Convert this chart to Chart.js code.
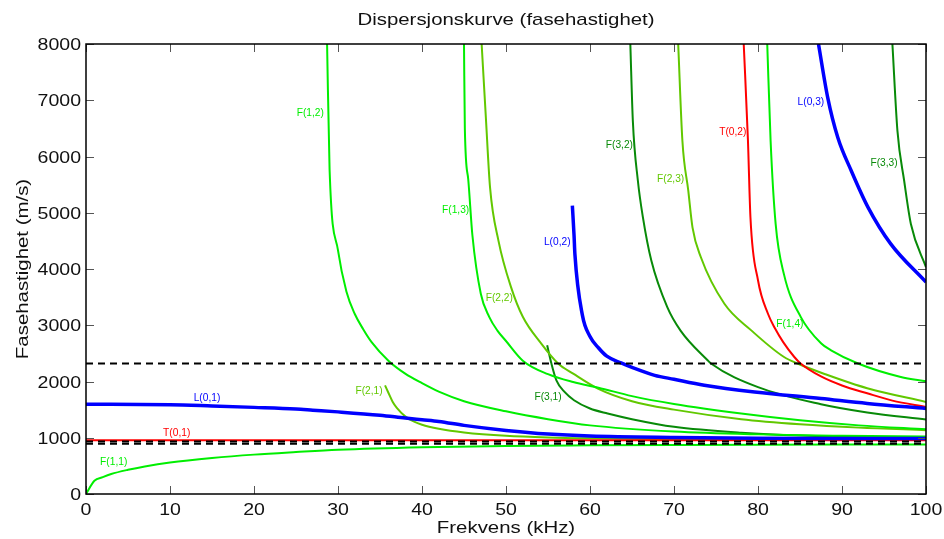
<!DOCTYPE html>
<html>
<head>
<meta charset="utf-8">
<script src="https://cdn.jsdelivr.net/npm/chart.js@4.4.1/dist/chart.umd.min.js"></script>
<style>
  html, body { margin: 0; padding: 0; background: #fff; }
</style>
</head>
<body>
<canvas id="myChart" width="944" height="539"></canvas>
<script>
// axis ticks
const xTicks = [0, 10, 20, 30, 40, 50, 60, 70, 80, 90, 100]
const yTicks = [0, 1000, 2000, 3000, 4000, 5000, 6000, 7000, 8000]

// reference speeds (dashed)
const refSpeeds = [2320, 935, 893]

// phase velocity per mode: frequency (kHz) and speed (m/s)
const freqL01 = [0, 10, 15, 20, 25, 27, 30, 35, 38, 40, 42, 45, 50, 55, 60, 70, 80, 90, 100]
const speedL01 = [1595, 1588, 1566, 1540, 1510, 1490, 1460, 1400, 1350, 1320, 1290, 1220, 1130, 1065, 1030, 1005, 993, 988, 985]

const freqL02 = [57.9, 58.1, 58.2, 59.1, 60, 61, 62, 63.7, 65, 67.7, 70, 73.6, 79.6, 87.5, 93, 100]
const speedL02 = [5126, 4600, 4270, 3175, 2800, 2600, 2450, 2330, 2250, 2110, 2040, 1935, 1815, 1697, 1610, 1520]

const freqL03 = [87.2, 88.3, 89.5, 91.1, 93.1, 95.8, 100]
const speedL03 = [8000, 7047, 6338, 5747, 5096, 4447, 3766]

const freqT01 = [0, 100]
const speedT01 = [955, 955]

const freqT02 = [78.3, 78.8, 79.1, 80, 81.2, 82, 83, 84.3, 85, 87.5, 90, 93, 96, 100]
const speedT02 = [8000, 6300, 4920, 3800, 3200, 2950, 2700, 2440, 2330, 2090, 1930, 1790, 1660, 1548]

const freqF11 = [0, 1, 2, 3, 5, 7, 10, 15, 20, 25, 30, 40, 50, 60, 70, 80, 90, 100]
const speedF11 = [0, 235, 300, 355, 430, 490, 560, 640, 700, 745, 785, 830, 855, 865, 872, 877, 880, 882]

const freqF12 = [28.7, 29, 30, 31, 32, 33, 34, 36, 38, 40, 42, 45, 50, 55, 60, 70, 80, 90, 100]
const speedF12 = [8000, 5760, 4330, 3600, 3200, 2930, 2700, 2370, 2140, 1970, 1820, 1650, 1470, 1330, 1220, 1110, 1060, 1035, 1020]

const freqF13 = [45, 45.1, 45.5, 46, 47, 48, 49, 50, 52, 55, 58, 61, 65, 70, 78, 85, 92, 100]
const speedF13 = [8000, 6500, 5600, 4600, 3560, 3150, 2900, 2720, 2370, 2130, 1990, 1890, 1740, 1600, 1430, 1310, 1220, 1150]

const freqF14 = [81.1, 81.5, 82.1, 83.1, 85.1, 87.5, 88.7, 91.9, 97, 100]
const speedF14 = [8000, 6279, 4801, 3900, 3145, 2680, 2554, 2320, 2081, 2004]

const freqF21 = [35.6, 36, 36.5, 37, 38, 39, 40, 42, 45, 50, 55, 60, 70, 80, 100]
const speedF21 = [1930, 1800, 1640, 1530, 1380, 1290, 1230, 1160, 1095, 1035, 1005, 990, 975, 968, 962]

const freqF22 = [47.1, 47.6, 48.1, 49.1, 50.6, 52, 54.2, 56.2, 58, 61, 65, 70, 78, 85, 92, 100]
const speedF22 = [8000, 6700, 5450, 4505, 3677, 3150, 2673, 2320, 2140, 1870, 1650, 1500, 1330, 1240, 1180, 1135]

const freqF23 = [70.5, 71, 71.7, 72.2, 73.2, 76, 79.2, 83.1, 84.7, 88, 93, 100]
const speedF23 = [8000, 6279, 5392, 4741, 4209, 3382, 2909, 2435, 2320, 2130, 1880, 1637]

const freqF31 = [54.9, 55.4, 56, 57, 58.1, 60, 62.1, 65, 70, 78, 85, 100]
const speedF31 = [2643, 2323, 2022, 1810, 1667, 1520, 1431, 1330, 1194, 1088, 1040, 1005]

const freqF32 = [64.8, 65.1, 65.7, 66.3, 67.3, 69.2, 70.8, 74, 74.4, 80, 87.5, 93, 100]
const speedF32 = [8000, 6634, 5569, 4918, 4150, 3322, 2900, 2377, 2320, 1900, 1596, 1450, 1325]

const freqF33 = [96, 96.6, 97.4, 98.2, 100]
const speedF33 = [8000, 6456, 5569, 4801, 4031]

const BLUE = '#0000ff'
const RED = '#ff0000'
const GREEN = '#00ee00'
const YGREEN = '#62c800'
const DGREEN = '#088a08'

// where each mode name is written (kHz, m/s)
const labelAt = {
  'F(1,1)': [3.3, 569], 'T(0,1)': [10.8, 1084], 'L(0,1)': [14.4, 1707],
  'F(2,1)': [33.7, 1831], 'F(1,2)': [26.7, 6773], 'F(1,3)': [44.0, 5049],
  'F(2,2)': [49.2, 3476], 'L(0,2)': [56.1, 4471], 'F(3,1)': [55.0, 1716],
  'F(3,2)': [63.5, 6196], 'F(2,3)': [69.6, 5591], 'T(0,2)': [77.0, 6427],
  'L(0,3)': [86.3, 6960], 'F(1,4)': [83.8, 3013], 'F(3,3)': [95.0, 5876]
}

const modes = [
  { name: 'L(0,1)', f: freqL01, v: speedL01, color: BLUE, width: 3.5 },
  { name: 'L(0,2)', f: freqL02, v: speedL02, color: BLUE, width: 3.5 },
  { name: 'L(0,3)', f: freqL03, v: speedL03, color: BLUE, width: 3.5 },
  { name: 'T(0,1)', f: freqT01, v: speedT01, color: RED, width: 2 },
  { name: 'T(0,2)', f: freqT02, v: speedT02, color: RED, width: 2 },
  { name: 'F(1,1)', f: freqF11, v: speedF11, color: GREEN, width: 2 },
  { name: 'F(1,2)', f: freqF12, v: speedF12, color: GREEN, width: 2 },
  { name: 'F(1,3)', f: freqF13, v: speedF13, color: GREEN, width: 2 },
  { name: 'F(1,4)', f: freqF14, v: speedF14, color: GREEN, width: 2 },
  { name: 'F(2,1)', f: freqF21, v: speedF21, color: YGREEN, width: 2 },
  { name: 'F(2,2)', f: freqF22, v: speedF22, color: YGREEN, width: 2 },
  { name: 'F(2,3)', f: freqF23, v: speedF23, color: YGREEN, width: 2 },
  { name: 'F(3,1)', f: freqF31, v: speedF31, color: DGREEN, width: 2 },
  { name: 'F(3,2)', f: freqF32, v: speedF32, color: DGREEN, width: 2 },
  { name: 'F(3,3)', f: freqF33, v: speedF33, color: DGREEN, width: 2 }
]

const pts = (f, v) => f.map((x, i) => ({ x: x, y: v[i] }))

// dashed lines first so they end up on top
let datasets = refSpeeds.map(s => ({
  label: 'ref ' + s,
  data: pts([0, 100], [s, s]),
  borderColor: '#000',
  borderWidth: 2,
  borderDash: [7, 5]
}))
modes.forEach(m => datasets.push({
  label: m.name,
  data: pts(m.f, m.v),
  borderColor: m.color,
  borderWidth: m.width,
  cubicInterpolationMode: 'monotone'
}))

const FONT = '"Liberation Sans", Arial, Helvetica, sans-serif'

// text is a bit wider than the plain font
const stretchText = (ctx, text, x, y, sx, rot) => {
  ctx.save()
  ctx.translate(x, y)
  if (rot) ctx.rotate(rot)
  ctx.scale(sx, 1)
  ctx.fillText(text, 0, 0)
  ctx.restore()
}

const axesPlugin = {
  id: 'axesPlugin',
  afterDatasetsDraw(chart) {
    const ctx = chart.ctx
    const a = chart.chartArea
    const xs = chart.scales.x
    const ys = chart.scales.y

    // mode names
    ctx.font = '10px ' + FONT
    ctx.textAlign = 'center'
    ctx.textBaseline = 'middle'
    modes.forEach(m => {
      const p = labelAt[m.name]
      ctx.fillStyle = m.color
      stretchText(ctx, m.name, xs.getPixelForValue(p[0]), ys.getPixelForValue(p[1]), 1.02)
    })

    // inward ticks
    ctx.strokeStyle = '#555'
    ctx.lineWidth = 1
    ctx.beginPath()
    xTicks.forEach(t => {
      const px = Math.round(xs.getPixelForValue(t)) + 0.5
      ctx.moveTo(px, a.bottom); ctx.lineTo(px, a.bottom - 8)
      ctx.moveTo(px, a.top); ctx.lineTo(px, a.top + 8)
    })
    yTicks.forEach(t => {
      const py = Math.round(ys.getPixelForValue(t)) + 0.5
      ctx.moveTo(a.left, py); ctx.lineTo(a.left + 8, py)
      ctx.moveTo(a.right, py); ctx.lineTo(a.right - 8, py)
    })
    ctx.stroke()

    // frame
    ctx.strokeStyle = '#000'
    ctx.lineWidth = 1.5
    ctx.strokeRect(a.left, a.top, a.right - a.left, a.bottom - a.top)

    // tick labels
    ctx.fillStyle = '#111'
    ctx.font = '16px ' + FONT
    ctx.textBaseline = 'alphabetic'
    ctx.textAlign = 'center'
    xTicks.forEach(t => stretchText(ctx, String(t), xs.getPixelForValue(t), a.bottom + 21, 1.22))
    ctx.textAlign = 'right'
    yTicks.forEach(t => stretchText(ctx, String(t), a.left - 5, ys.getPixelForValue(t) + 6, 1.22))

    // title and axis titles
    ctx.font = '17px ' + FONT
    ctx.textAlign = 'center'
    const cx = (a.left + a.right) / 2
    stretchText(ctx, 'Dispersjonskurve (fasehastighet)', cx, 25, 1.2)
    stretchText(ctx, 'Frekvens (kHz)', cx, 533, 1.2)
    stretchText(ctx, 'Fasehastighet (m/s)', 28, (a.top + a.bottom) / 2, 1.2, -Math.PI / 2)
  }
}

new Chart('myChart', {
  type: 'line',
  data: { datasets: datasets },
  options: {
    responsive: false,
    devicePixelRatio: 1,
    animation: false,
    layout: { padding: { left: 86, top: 44, right: 18, bottom: 45 } },
    elements: {
      point: { radius: 0, hoverRadius: 0 },
      line: { tension: 0, borderCapStyle: 'butt' }
    },
    scales: {
      x: { type: 'linear', min: 0, max: 100, display: false },
      y: { type: 'linear', min: 0, max: 8000, display: false }
    },
    plugins: {
      legend: { display: false },
      tooltip: { enabled: false },
      title: { display: false }
    }
  },
  plugins: [axesPlugin]
})
</script>
</body>
</html>
